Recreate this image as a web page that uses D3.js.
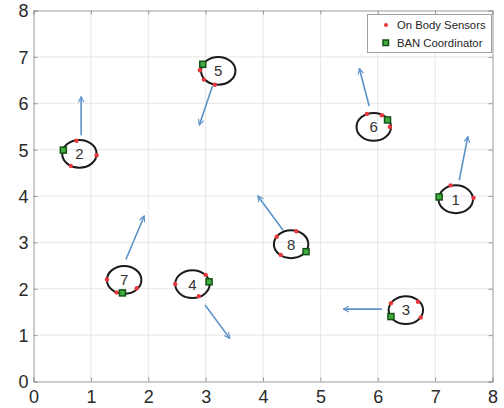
<!DOCTYPE html>
<html><head><meta charset="utf-8">
<script src="https://cdn.jsdelivr.net/npm/d3@7"></script>
<style>body{margin:0;background:#fff;}svg{display:block;font-family:"Liberation Sans",Arial,sans-serif;}</style>
</head><body>
<script>
// Data
const groupIds   = [1, 2, 3, 4, 5, 6, 7, 8];
const centersX   = [7.36, 0.80, 6.49, 2.77, 3.22, 5.93, 1.58, 4.49];
const centersY   = [3.93, 4.91, 1.54, 2.10, 6.70, 5.49, 2.19, 2.96];
const radius     = 0.3;
const coordX     = [7.07, 0.52, 6.23, 3.06, 2.95, 6.17, 1.55, 4.75];
const coordY     = [3.98, 4.99, 1.40, 2.15, 6.84, 5.64, 1.91, 2.80];
const sensorX    = [[7.27, 7.67], [0.75, 1.10, 0.65], [6.23, 6.70, 6.75], [2.47, 3.00, 2.88],
                    [2.90, 2.97, 3.16], [5.81, 6.07, 6.21], [1.28, 1.45, 1.80], [4.24, 4.58, 4.31]];
const sensorY    = [[4.23, 3.96], [5.19, 4.88, 4.65], [1.69, 1.72, 1.38], [2.10, 2.30, 1.84],
                    [6.71, 6.51, 6.40], [5.77, 5.74, 5.49], [2.20, 1.92, 2.01], [3.12, 3.24, 2.73]];
const arrowX0    = [7.42, 0.83, 6.07, 2.99, 3.12, 5.85, 1.61, 4.35];
const arrowY0    = [4.34, 5.31, 1.56, 1.65, 6.37, 5.94, 2.63, 3.26];
const arrowX1    = [7.57, 0.83, 5.40, 3.42, 2.89, 5.68, 1.93, 3.91];
const arrowY1    = [5.28, 6.14, 1.56, 0.93, 5.53, 6.75, 3.57, 4.00];
const xTicks     = [0, 1, 2, 3, 4, 5, 6, 7, 8];
const yTicks     = [0, 1, 2, 3, 4, 5, 6, 7, 8];
const legendLabels = ["On Body Sensors", "BAN Coordinator"];

const W = 504, H = 408;
const m = {l: 33.5, r: 11.5, t: 10.5, b: 26.5};
const svg = d3.select("body").append("svg").attr("width", W).attr("height", H);
const x = d3.scaleLinear().domain([0, 8]).range([m.l, W - m.r]);
const y = d3.scaleLinear().domain([0, 8]).range([H - m.b, m.t]);

// grid
const g = svg.append("g");
g.selectAll("line.gx").data(xTicks.slice(1, -1)).join("line")
  .attr("x1", d => x(d)).attr("x2", d => x(d)).attr("y1", y(0)).attr("y2", y(8))
  .attr("stroke", "#e6e6e6").attr("stroke-width", 1);
g.selectAll("line.gy").data(yTicks.slice(1, -1)).join("line")
  .attr("y1", d => y(d)).attr("y2", d => y(d)).attr("x1", x(0)).attr("x2", x(8))
  .attr("stroke", "#e6e6e6").attr("stroke-width", 1);

// axes
const axB = svg.append("g").attr("transform", `translate(0,${y(0)})`)
  .call(d3.axisBottom(x).tickValues(xTicks).tickSize(-4).tickPadding(8));
const axL = svg.append("g").attr("transform", `translate(${x(0)},0)`)
  .call(d3.axisLeft(y).tickValues(yTicks).tickSize(-4).tickPadding(5));
const axT = svg.append("g").attr("transform", `translate(0,${y(8)})`)
  .call(d3.axisTop(x).tickValues(xTicks).tickSize(-4).tickFormat(""));
const axR = svg.append("g").attr("transform", `translate(${x(8)},0)`)
  .call(d3.axisRight(y).tickValues(yTicks).tickSize(-4).tickFormat(""));
[axB, axL, axT, axR].forEach(a => {
  a.selectAll("path").attr("stroke", "#9a9a9a");
  a.selectAll("line").attr("stroke", "#9a9a9a");
  a.selectAll("text").attr("fill", "#2a2a2a").style("font-size", "18px")
   .style("font-family", "'Liberation Sans', Arial, sans-serif");
});
axB.selectAll("text").attr("dy", "0.75em");
axL.selectAll("text").attr("dy", "0.36em");

// arrows
const defs = svg.append("defs");
defs.append("marker").attr("id", "ah").attr("viewBox", "0 0 10 10")
  .attr("refX", 9).attr("refY", 5).attr("markerWidth", 7).attr("markerHeight", 7)
  .attr("markerUnits", "userSpaceOnUse").attr("orient", "auto")
  .append("path").attr("d", "M1,1 L9,5 L1,9").attr("fill", "none")
  .attr("stroke", "#5b93c9").attr("stroke-width", 1.6);
svg.append("g").selectAll("line").data(groupIds).join("line")
  .attr("x1", (d, i) => x(arrowX0[i])).attr("y1", (d, i) => y(arrowY0[i]))
  .attr("x2", (d, i) => x(arrowX1[i])).attr("y2", (d, i) => y(arrowY1[i]))
  .attr("stroke", "#5b93c9").attr("stroke-width", 1.6).attr("marker-end", "url(#ah)");

// ellipses
const eg = svg.append("g").selectAll("g").data(groupIds).join("g");
eg.append("ellipse")
  .attr("cx", (d, i) => x(centersX[i])).attr("cy", (d, i) => y(centersY[i]))
  .attr("rx", x(radius) - x(0)).attr("ry", y(0) - y(radius))
  .attr("fill", "none").attr("stroke", "#1a1a1a").attr("stroke-width", 2);
eg.append("text")
  .attr("x", (d, i) => x(centersX[i])).attr("y", (d, i) => y(centersY[i]))
  .attr("text-anchor", "middle").attr("dy", "0.36em")
  .attr("fill", "#333").style("font-size", "15px").text(d => d);
// sensors
eg.each(function(d, i) {
  d3.select(this).selectAll("circle").data(sensorX[i]).join("circle")
    .attr("cx", v => x(v)).attr("cy", (v, j) => y(sensorY[i][j]))
    .attr("r", 2.2).attr("fill", "#e8383d");
});
// coordinators
eg.append("rect")
  .attr("x", (d, i) => x(coordX[i]) - 3).attr("y", (d, i) => y(coordY[i]) - 3)
  .attr("width", 6).attr("height", 6)
  .attr("fill", "#3fae3f").attr("stroke", "#145214").attr("stroke-width", 1.5);

// legend
const lg = svg.append("g");
lg.append("rect").attr("x", 367.5).attr("y", 14.5).attr("width", 124).attr("height", 38)
  .attr("fill", "#fff").attr("stroke", "#a0a0a0").attr("stroke-width", 1);
lg.append("circle").attr("cx", 386).attr("cy", 25).attr("r", 2).attr("fill", "#e8383d");
lg.append("rect").attr("x", 383).attr("y", 40).attr("width", 5.5).attr("height", 5.5)
  .attr("fill", "#3fae3f").attr("stroke", "#145214").attr("stroke-width", 1.5);
lg.selectAll("text").data(legendLabels).join("text")
  .attr("x", 397).attr("y", (d, i) => 25 + i * 17.5).attr("dy", "0.36em")
  .attr("fill", "#262626").style("font-size", "11.3px").text(d => d);
</script>
</body></html>
